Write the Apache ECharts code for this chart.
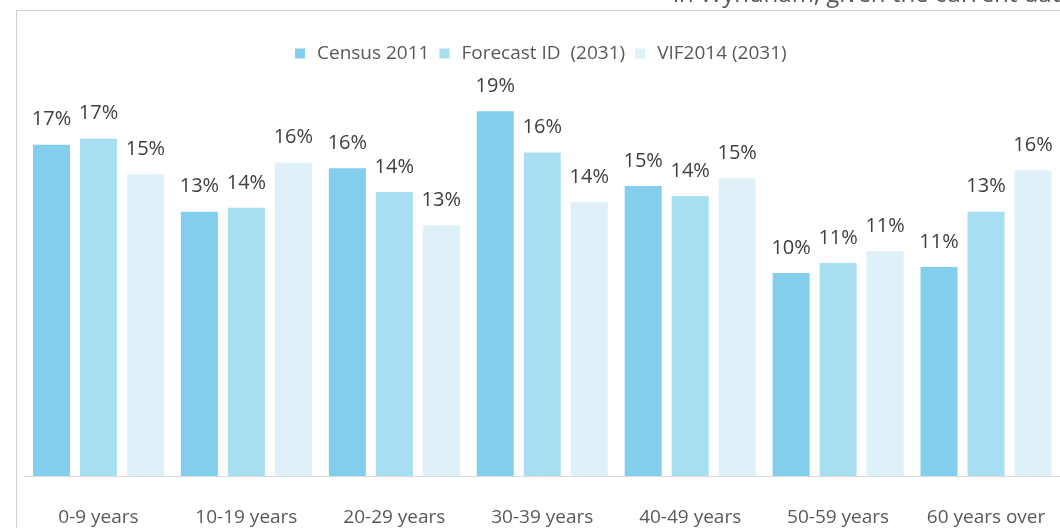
<!DOCTYPE html>
<html>
<head>
<meta charset="utf-8">
<script src="https://cdn.jsdelivr.net/npm/echarts@6/dist/echarts.min.js"></script>
<style>
html,body{margin:0;padding:0;background:#fff;}
#chart{width:1060px;height:528px;}
</style>
</head>
<body>
<div id="chart"></div>
<script>
const categories = ['0-9 years', '10-19 years', '20-29 years', '30-39 years', '40-49 years', '50-59 years', '60 years over'];
const census2011 = [16.8, 13.4, 15.6, 18.5, 14.7, 10.3, 10.6];
const forecastID2031 = [17.1, 13.6, 14.4, 16.4, 14.2, 10.8, 13.4];
const vif2014_2031 = [15.3, 15.9, 12.7, 13.9, 15.1, 11.4, 15.5];
const seriesNames = ['Census 2011', 'Forecast ID  (2031)', 'VIF2014 (2031)'];
const headerText = 'in Wyndham, given the current data';

const FONT = '"Open Sans", "DejaVu Sans", sans-serif';
const colors = ['#83CEEC', '#A7DEF2', '#DEF0F8'];

const chart = echarts.init(document.getElementById('chart'), null, {renderer: 'canvas'});

function barSeries(name, data, color) {
  return {
    name: name,
    type: 'bar',
    data: data,
    barWidth: 37,
    barGap: '27%',
    itemStyle: {color: color},
    label: {
      show: true,
      position: 'top',
      distance: 15,
      fontFamily: FONT,
      fontSize: 20,
      color: '#404040',
      formatter: p => Math.round(p.value) + '%'
    }
  };
}

chart.setOption({
  animation: false,
  color: colors,
  graphic: [
    {
      type: 'rect',
      shape: {x: 16.5, y: 10.5, width: 1200, height: 700},
      style: {fill: 'none', stroke: '#D0D0D0', lineWidth: 1},
      z: -10
    },
    {
      type: 'text',
      x: 673,
      y: 7,
      style: {
        text: headerText,
        font: '24px ' + FONT,
        fill: '#595959',
        textVerticalAlign: 'bottom'
      }
    }
  ],
  legend: {
    left: 295,
    top: 44,
    padding: 0,
    itemWidth: 10,
    itemHeight: 10,
    itemGap: 10,
    icon: 'rect',
    textStyle: {
      fontFamily: FONT,
      fontSize: 19,
      color: '#595959',
      padding: [0, 0, 0, 7]
    },
    data: seriesNames
  },
  grid: {
    left: 24.5,
    right: 0,
    top: 81.6,
    bottom: 52,
    containLabel: false,
    outerBoundsMode: 'none'
  },
  xAxis: {
    type: 'category',
    data: categories,
    axisLine: {show: true, lineStyle: {color: '#D9D9D9', width: 1}},
    axisTick: {show: false},
    axisLabel: {
      margin: 32,
      fontFamily: FONT,
      fontSize: 19,
      color: '#595959',
      interval: 0
    }
  },
  yAxis: {
    type: 'value',
    min: 0,
    max: 20,
    show: false,
    splitLine: {show: false}
  },
  series: [
    barSeries(seriesNames[0], census2011, colors[0]),
    barSeries(seriesNames[1], forecastID2031, colors[1]),
    barSeries(seriesNames[2], vif2014_2031, colors[2])
  ]
});
</script>
</body>
</html>
